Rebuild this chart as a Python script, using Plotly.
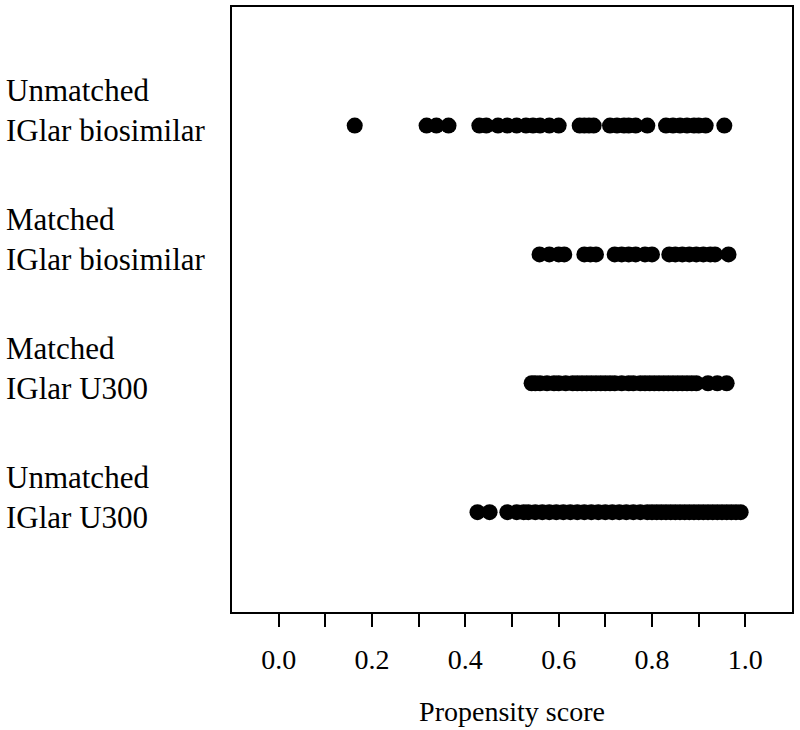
import plotly.graph_objects as go

# Row labels (top to bottom)
row_labels = ["Unmatched<br>IGlar biosimilar", "Matched<br>IGlar biosimilar",
              "Matched<br>IGlar U300", "Unmatched<br>IGlar U300"]
row_pos = [4, 3, 2, 1]

unmatched_biosimilar = [0.163, 0.317, 0.338, 0.364, 0.43, 0.445, 0.47, 0.49, 0.51, 0.53, 0.545,
                        0.56, 0.58, 0.60, 0.645, 0.655, 0.665, 0.675, 0.71, 0.725, 0.74, 0.75,
                        0.765, 0.79, 0.83, 0.845, 0.86, 0.875, 0.89, 0.90, 0.915, 0.955]
matched_biosimilar = [0.559, 0.58, 0.60, 0.612, 0.655, 0.668, 0.68, 0.72, 0.735, 0.75, 0.765,
                      0.785, 0.80, 0.837, 0.85, 0.865, 0.88, 0.895, 0.91, 0.925, 0.935, 0.964]
matched_u300 = [0.542, 0.55, 0.56, 0.575, 0.59, 0.60, 0.615, 0.63, 0.64, 0.65, 0.66, 0.67, 0.68,
                0.69, 0.70, 0.71, 0.72, 0.735, 0.75, 0.76, 0.775, 0.785, 0.795, 0.805, 0.815,
                0.825, 0.835, 0.845, 0.855, 0.865, 0.875, 0.885, 0.895, 0.92, 0.94, 0.96]
unmatched_u300 = [0.426, 0.452, 0.49, 0.51, 0.525, 0.535, 0.55, 0.565, 0.58, 0.595, 0.61, 0.625,
                  0.64, 0.655, 0.67, 0.685, 0.70, 0.715, 0.73, 0.745, 0.76, 0.775, 0.79, 0.80,
                  0.81, 0.82, 0.83, 0.84, 0.85, 0.86, 0.87, 0.88, 0.89, 0.90, 0.91, 0.92, 0.93,
                  0.94, 0.95, 0.96, 0.97, 0.98, 0.99]
series = [unmatched_biosimilar, matched_biosimilar, matched_u300, unmatched_u300]

tick_vals = [0.0, 0.1, 0.2, 0.3, 0.4, 0.5, 0.6, 0.7, 0.8, 0.9, 1.0]
tick_text = ["0.0", "", "0.2", "", "0.4", "", "0.6", "", "0.8", "", "1.0"]

FONT = "Liberation Serif, Times New Roman, serif"

fig = go.Figure()
for vals, pos in zip(series, row_pos):
    fig.add_trace(go.Scatter(x=vals, y=[pos] * len(vals), mode="markers",
                             marker=dict(size=16, color="black"), showlegend=False,
                             hoverinfo="x"))

for lab, pos in zip(row_labels, row_pos):
    fig.add_annotation(text=lab, xref="paper", yref="y", x=-0.408, y=pos, yshift=15,
                       xanchor="left", yanchor="middle", align="left", showarrow=False,
                       font=dict(family=FONT, size=31, color="black"))

fig.update_layout(
    width=800, height=730,
    margin=dict(l=232, r=8, t=5, b=118),
    paper_bgcolor="white", plot_bgcolor="white",
    font=dict(family=FONT, color="black"),
    xaxis=dict(range=[-0.1, 1.1], tickvals=tick_vals, ticktext=tick_text,
               ticks="outside", ticklen=13, tickwidth=2, tickcolor="black",
               showline=True, linecolor="black", linewidth=2, mirror=True,
               showgrid=False, zeroline=False, tickfont=dict(size=28, family=FONT),
               ticklabelstandoff=8,
               title=dict(text="Propensity score", font=dict(size=28, family=FONT), standoff=28)),
    yaxis=dict(range=[0.225, 4.92], showticklabels=False, ticks="",
               showline=True, linecolor="black", linewidth=2, mirror=True,
               showgrid=False, zeroline=False),
)

fig.write_html("out.html", config={"displayModeBar": False},
               post_script="document.body.style.margin='0';document.body.style.padding='0';")
